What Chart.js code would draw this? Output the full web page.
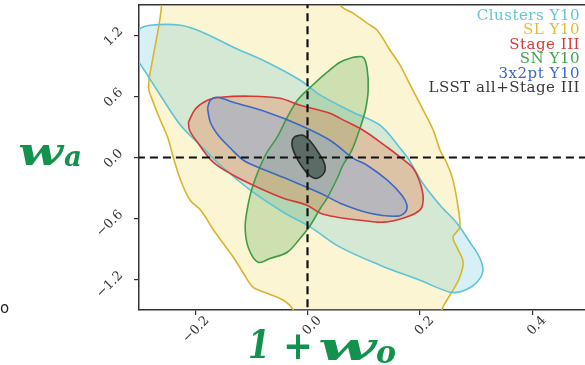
<!DOCTYPE html>
<html>
<head>
<meta charset="utf-8">
<script src="https://cdn.jsdelivr.net/npm/chart.js@4.4.1/dist/chart.umd.min.js"></script>
<style>
  html, body { margin: 0; padding: 0; background: #fff; overflow: hidden; }
  #wrap { width: 585px; height: 365px; }
</style>
</head>
<body>
<div id="wrap"><canvas id="chart" width="585" height="365"></canvas></div>
<script>
const xTicks = [-0.2, 0.0, 0.2, 0.4];
const yTicks = [-1.2, -0.6, 0.0, 0.6, 1.2];

const legendLabels = ['Clusters Y10', 'SL Y10', 'Stage III', 'SN Y10', '3x2pt Y10', 'LSST all+Stage III'];

// contour outlines as [1+w0, wa] pairs
const slY10 = [
  [-0.262, 1.70], [-0.260, 1.498], [-0.265, 1.285], [-0.276, 0.957], [-0.283, 0.691], [-0.276, 0.563],
  [-0.262, 0.367], [-0.249, 0.200], [-0.239, 0.003], [-0.226, -0.223], [-0.209, -0.420], [-0.190, -0.519],
  [-0.167, -0.716], [-0.132, -0.981], [-0.114, -1.139], [-0.097, -1.276], [-0.072, -1.335], [-0.043, -1.404],
  [-0.025, -1.502], [-0.015, -1.70], [0.235, -1.70], [0.239, -1.502], [0.248, -1.404], [0.259, -1.305],
  [0.271, -1.177], [0.277, -1.030], [0.266, -0.882], [0.259, -0.784], [0.271, -0.686], [0.268, -0.489],
  [0.259, -0.223], [0.248, -0.056], [0.236, 0.072], [0.224, 0.268], [0.206, 0.465], [0.183, 0.711],
  [0.165, 0.907], [0.147, 1.055], [0.124, 1.252], [0.106, 1.321], [0.081, 1.420], [0.058, 1.498],
  [0.050, 1.70], [-0.262, 1.70]
];

const clustersY10 = [
  [-0.324, 1.104], [-0.299, 1.262], [-0.280, 1.301], [-0.226, 1.301], [-0.191, 1.242], [-0.132, 1.085],
  [-0.072, 0.937], [-0.013, 0.760], [0.023, 0.613], [0.081, 0.445], [0.129, 0.318], [0.165, 0.091],
  [0.179, -0.007], [0.204, -0.243], [0.236, -0.469], [0.266, -0.646], [0.289, -0.833], [0.307, -0.991],
  [0.312, -1.128], [0.298, -1.246], [0.275, -1.315], [0.254, -1.325], [0.200, -1.208], [0.129, -1.059],
  [0.058, -0.882], [0.005, -0.685], [-0.043, -0.538], [-0.097, -0.341], [-0.155, -0.076], [-0.191, 0.121],
  [-0.226, 0.317], [-0.262, 0.612], [-0.299, 0.927], [-0.324, 1.104]
];

const snY10 = [
  [0.081, 0.986], [0.099, 0.986], [0.106, 0.878], [0.108, 0.662], [0.103, 0.465], [0.094, 0.298],
  [0.079, 0.072], [0.063, -0.076], [0.053, -0.204], [0.035, -0.400], [0.023, -0.499], [0.005, -0.666],
  [-0.013, -0.794], [-0.036, -0.932], [-0.066, -0.991], [-0.088, -1.030], [-0.105, -0.892], [-0.111, -0.695],
  [-0.107, -0.499], [-0.097, -0.273], [-0.075, 0.023], [-0.054, 0.200], [-0.036, 0.396], [-0.018, 0.563],
  [0.005, 0.691], [0.035, 0.839], [0.058, 0.937], [0.081, 0.986]
];

const stageIII = [
  [-0.212, 0.347], [-0.200, 0.475], [-0.178, 0.563], [-0.155, 0.592], [-0.102, 0.603], [-0.049, 0.583],
  [-0.013, 0.514], [0.040, 0.436], [0.058, 0.385], [0.099, 0.268], [0.142, 0.101], [0.165, 0.003],
  [0.188, -0.105], [0.200, -0.243], [0.206, -0.400], [0.200, -0.518], [0.170, -0.597], [0.135, -0.636],
  [0.094, -0.617], [0.053, -0.587], [0.023, -0.548], [-0.001, -0.469], [-0.043, -0.400], [-0.089, -0.292],
  [-0.132, -0.174], [-0.168, -0.046], [-0.196, 0.150], [-0.210, 0.268], [-0.212, 0.347]
];

const x2ptY10 = [
  [-0.178, 0.484], [-0.173, 0.563], [-0.161, 0.592], [-0.132, 0.543], [-0.072, 0.445], [-0.013, 0.318],
  [0.040, 0.170], [0.081, -0.007], [0.106, -0.076], [0.142, -0.223], [0.168, -0.371], [0.177, -0.469],
  [0.174, -0.538], [0.159, -0.577], [0.111, -0.548], [0.058, -0.449], [0.023, -0.351], [-0.031, -0.223],
  [-0.084, -0.105], [-0.114, -0.027], [-0.137, 0.091], [-0.159, 0.219], [-0.173, 0.347], [-0.178, 0.484]
];

const lsstAll = [
  [-0.022, 0.209], [-0.008, 0.219], [0.005, 0.160], [0.019, 0.052], [0.030, -0.056], [0.030, -0.145],
  [0.017, -0.204], [0.005, -0.184], [-0.009, -0.095], [-0.020, 0.003], [-0.027, 0.101], [-0.027, 0.170],
  [-0.022, 0.209]
];

// fiducial lines
const fiducialW0 = [[0, -1.6], [0, 1.6]];
const fiducialWa = [[-0.35, 0], [0.55, 0]];

const toPoints = (arr) => arr.map(([x, y]) => ({ x, y }));

function contour(data, line, fill) {
  return {
    data: toPoints(data),
    showLine: true,
    borderColor: line,
    backgroundColor: fill,
    borderWidth: 1.6,
    pointRadius: 0,
    tension: 0.35,
    fill: 'shape',
  };
}

function dashed(data) {
  return {
    data: toPoints(data),
    showLine: true,
    borderColor: '#111',
    borderWidth: 2.2,
    borderDash: [8, 5],
    pointRadius: 0,
    fill: false,
  };
}

const legendColors = ['#62c6d8', '#e6bd2e', '#d63a3a', '#45a04a', '#3b67cc', '#3a3a3a'];

function fmt(v) {
  const s = Math.abs(v).toFixed(1);
  return v < -1e-9 ? '\u2212' + s : s;
}

function drawStretched(ctx, text, x, y, width) {
  const w = ctx.measureText(text).width;
  ctx.save();
  ctx.translate(x, y);
  ctx.scale(width / w, 1);
  ctx.fillText(text, 0, 0);
  ctx.restore();
}

const annotations = {
  id: 'annotations',
  afterDraw(chart) {
    const ctx = chart.ctx;
    ctx.save();

    ctx.textAlign = 'right';
    ctx.textBaseline = 'middle';
    ctx.font = '15px "DejaVu Serif"';
    ctx.letterSpacing = '0.5px';
    legendLabels.forEach((t, i) => {
      ctx.fillStyle = legendColors[i];
      ctx.fillText(t, 580, 16 + i * 14.5);
    });
    ctx.letterSpacing = '0px';

    ctx.textAlign = 'left';
    ctx.textBaseline = 'alphabetic';
    ctx.fillStyle = '#12924c';
    ctx.font = 'italic bold 40px "DejaVu Serif"';
    drawStretched(ctx, 'w', 18, 165, 45);
    ctx.font = 'italic bold 28px "DejaVu Serif"';
    drawStretched(ctx, 'a', 64, 166, 18);

    ctx.font = 'italic bold 40px "DejaVu Serif"';
    drawStretched(ctx, '1', 248, 358, 22);
    ctx.font = 'bold 40px "DejaVu Serif"';
    drawStretched(ctx, '+', 283, 359, 30);
    ctx.font = 'italic bold 40px "DejaVu Serif"';
    drawStretched(ctx, 'w', 318, 360, 58);
    ctx.font = 'italic bold 32px "DejaVu Serif"';
    drawStretched(ctx, 'o', 376, 363, 20);

    ctx.fillStyle = '#222';
    ctx.font = '15px "DejaVu Sans"';
    ctx.fillText('o', 0, 313);
    ctx.restore();
  },
};

const axisColor = '#333';

function noPadding(axis) {
  axis.paddingTop = 0;
  axis.paddingBottom = 0;
  axis.paddingLeft = 0;
  axis.paddingRight = 0;
}

new Chart(document.getElementById('chart').getContext('2d'), {
  type: 'scatter',
  data: {
    datasets: [
      dashed(fiducialW0),
      dashed(fiducialWa),
      contour(lsstAll, '#2b2b2b', 'rgba(30, 52, 46, 0.55)'),
      contour(x2ptY10, '#3c68c4', 'rgba(100, 160, 240, 0.3)'),
      contour(stageIII, '#d23a3a', 'rgba(240, 110, 60, 0.3)'),
      contour(snY10, '#3f9c45', 'rgba(70, 160, 70, 0.25)'),
      contour(clustersY10, '#5ec3d6', 'rgba(94, 195, 214, 0.25)'),
      contour(slY10, '#d9b52c', 'rgba(240, 208, 60, 0.22)'),
    ],
  },
  options: {
    responsive: false,
    animation: false,
    layout: { padding: 0 },
    elements: { line: { capBezierPoints: false } },
    scales: {
      x: {
        type: 'linear',
        min: -0.3,
        max: 0.494,
        afterBuildTicks: (axis) => { axis.ticks = xTicks.map((v) => ({ value: v })); },
        afterFit: (axis) => { axis.height = 55; noPadding(axis); },
        ticks: {
          callback: (v) => fmt(v),
          autoSkip: false,
          minRotation: 45,
          maxRotation: 45,
          padding: -2,
          labelOffset: 12,
          color: '#333',
          font: { family: 'DejaVu Serif', size: 13 },
        },
        grid: { drawOnChartArea: false, drawTicks: true, tickLength: 5, color: axisColor, lineWidth: 1.2 },
        border: { display: true, color: axisColor, width: 1.5 },
      },
      x2: {
        type: 'linear',
        position: 'top',
        min: -0.3,
        max: 0.494,
        afterFit: (axis) => { axis.height = 5; noPadding(axis); },
        ticks: { display: false },
        grid: { display: false },
        border: { display: true, color: axisColor, width: 1.5 },
      },
      y: {
        type: 'linear',
        min: -1.5,
        max: 1.5,
        afterBuildTicks: (axis) => { axis.ticks = yTicks.map((v) => ({ value: v })); },
        afterFit: (axis) => { axis.width = 139; noPadding(axis); },
        ticks: {
          callback: (v) => fmt(v),
          autoSkip: false,
          minRotation: 45,
          maxRotation: 45,
          padding: 13,
          labelOffset: -6,
          color: '#333',
          font: { family: 'DejaVu Serif', size: 13 },
        },
        grid: { drawOnChartArea: false, drawTicks: true, tickLength: 5, color: axisColor, lineWidth: 1.2 },
        border: { display: true, color: axisColor, width: 1.5 },
      },
    },
    plugins: {
      legend: { display: false },
      tooltip: { enabled: false },
      filler: { drawTime: 'beforeDatasetsDraw' },
    },
  },
  plugins: [annotations],
});
</script>
</body>
</html>
